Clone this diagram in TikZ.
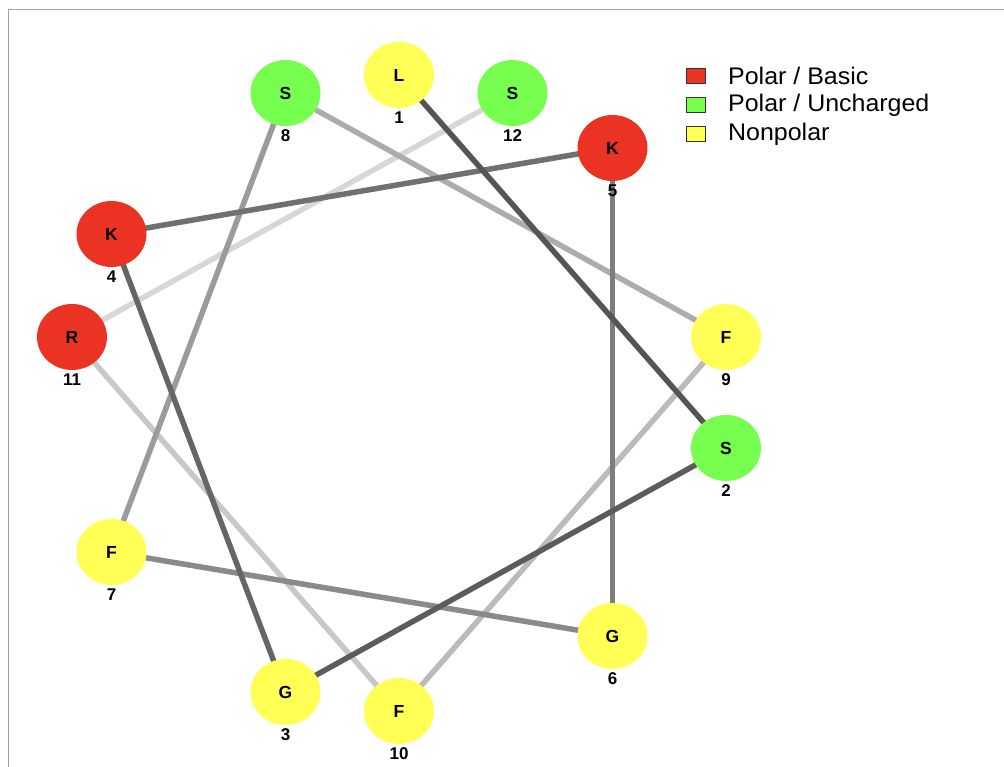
\documentclass[tikz,border=0pt]{standalone}
\usepackage{fontspec}
\setmainfont{Liberation Sans}
\usetikzlibrary{shapes.geometric,backgrounds}
\definecolor{basic}{HTML}{EA3323}
\definecolor{unch}{HTML}{77FF4F}
\definecolor{nonp}{HTML}{FFFF55}
\definecolor{frame}{HTML}{A0A0A0}
\begin{document}
\begin{tikzpicture}[x=1pt,y=-1pt,
  res/.style={ellipse, minimum width=70pt, minimum height=66pt, inner sep=0pt,
    font=\fontsize{17.5}{17.5}\selectfont\bfseries},
  num/.style={inner sep=0pt, font=\fontsize{17}{17}\selectfont\bfseries},
  link/.style={line width=5.5pt},
  legbox/.style={draw=black!80, line width=1pt, minimum width=19pt, minimum height=15pt, inner sep=0pt},
  legtext/.style={anchor=west, inner sep=0pt, font=\fontsize{24}{24}\selectfont}]
\useasboundingbox (0,0) rectangle (1004,767);
\draw[frame, line width=1pt] (8,767) -- (8,10) -- (1004,10);

% residues
\node[res, fill=nonp]  (r1)  at (399,75)    {L};
\node[res, fill=unch]  (r2)  at (726,448)   {S};
\node[res, fill=nonp]  (r3)  at (285.5,692) {G};
\node[res, fill=basic] (r4)  at (111.5,234) {K};
\node[res, fill=basic] (r5)  at (612.5,148) {K};
\node[res, fill=nonp]  (r6)  at (612.5,636) {G};
\node[res, fill=nonp]  (r7)  at (111.5,552) {F};
\node[res, fill=unch]  (r8)  at (285.5,93)  {S};
\node[res, fill=nonp]  (r9)  at (726,337)   {F};
\node[res, fill=nonp]  (r10) at (399,711)   {F};
\node[res, fill=basic] (r11) at (72,337)    {R};
\node[res, fill=unch]  (r12) at (512.5,93)  {S};

% numbers
\foreach \i in {1,...,12}{
  \node[num] (n\i) at ([yshift=-43pt]r\i.center) {\i};
}

% connectors
\begin{scope}[on background layer]
\draw[link, color={rgb,255:red,215;green,215;blue,215}] (r11.center) -- (r12.center);
\draw[link, color={rgb,255:red,200;green,200;blue,200}] (r10.center) -- (r11.center);
\draw[link, color={rgb,255:red,187;green,187;blue,187}] (r9.center) -- (r10.center);
\draw[link, color={rgb,255:red,172;green,172;blue,172}] (r8.center) -- (r9.center);
\draw[link, color={rgb,255:red,155;green,155;blue,155}] (r7.center) -- (r8.center);
\draw[link, color={rgb,255:red,138;green,138;blue,138}] (r6.center) -- (r7.center);
\draw[link, color={rgb,255:red,125;green,125;blue,125}] (r5.center) -- (r6.center);
\draw[link, color={rgb,255:red,112;green,112;blue,112}] (r4.center) -- (r5.center);
\draw[link, color={rgb,255:red,102;green,102;blue,102}] (r3.center) -- (r4.center);
\draw[link, color={rgb,255:red,92;green,92;blue,92}] (r2.center) -- (r3.center);
\draw[link, color={rgb,255:red,85;green,85;blue,85}] (r1.center) -- (r2.center);
\end{scope}

% legend
\node[legbox, fill=basic] (l1) at (696,76) {};
\node[legbox, fill=unch]  (l2) at (696,105) {};
\node[legbox, fill=nonp]  (l3) at (696,134) {};
\node[legtext] (t1) at (728,76)  {\scalebox{1.04}[1]{Polar / Basic}};
\node[legtext] (t2) at (728,105) {\scalebox{1.04}[1]{Polar / Uncharged}};
\node[legtext] (t3) at (728,134) {\scalebox{1.04}[1]{Nonpolar}};
\end{tikzpicture}
\end{document}
